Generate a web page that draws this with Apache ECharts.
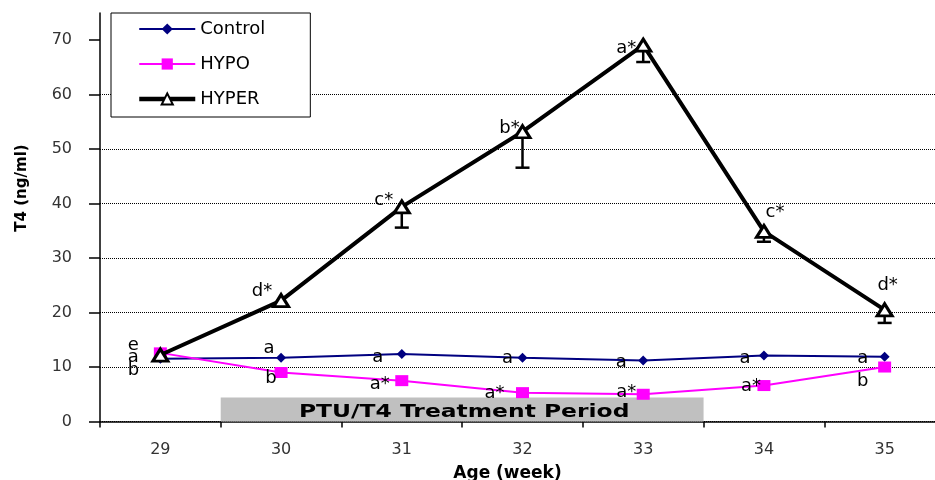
<!DOCTYPE html>
<html><head><meta charset="utf-8">
<script src="https://cdn.jsdelivr.net/npm/echarts@6/dist/echarts.min.js"></script>
<style>html,body{margin:0;padding:0;background:#fff}#c{width:935px;height:480px}</style>
</head><body><div id="c"></div>
<script>
const weeks = ['29', '30', '31', '32', '33', '34', '35'];
const controlT4 = [11.5, 11.7, 12.4, 11.7, 11.2, 12.1, 11.9];
const hypoT4 = [12.6, 9.0, 7.5, 5.3, 5.0, 6.6, 10.0];
const hyperT4 = [12.2, 22.2, 39.4, 53.2, 69.1, 34.9, 20.5];
const hyperErr = [0, 0, 3.8, 6.6, 3.1, 1.9, 2.4];
const controlLetters = ['a', 'a', 'a', 'a', 'a', 'a', 'a'];
const hypoLetters = ['b', 'b', 'a*', 'a*', 'a*', 'a*', 'b'];
const hyperLetters = ['e', 'd*', 'c*', 'b*', 'a*', 'c*', 'd*'];
const yTicks = [0, 10, 20, 30, 40, 50, 60, 70];
const treatmentWeeks = ['30', '33'];
const treatmentHeight = 4.4;
const treatmentLabel = 'PTU/T4 Treatment Period';

// label placement (style config, pixel offsets from each point)
const labelOffsets = {
  control: [[-27, -2], [-12, -9], [-24, 3], [-15, 1], [-22, 2], [-19, 3], [-22, 2]],
  hypo: [[-27, 17], [-10, 6], [-22, 4], [-28, 1], [-17, -2], [-13, 1], [-22, 14]],
  hyper: [[-27, -10], [-19, -9], [-18, -7], [-13, -3], [-17, 3], [11, -19], [3, -25]]
};

const FONT = '"DejaVu Sans", Verdana, sans-serif';

function withLabels(vals, letters, offs) {
  return vals.map((v, i) => ({
    value: v,
    label: { show: true, formatter: letters[i], offset: offs[i] }
  }));
}
const labelStyle = { position: 'inside', color: '#000', fontSize: 18, fontFamily: FONT };

const chart = echarts.init(document.getElementById('c'), null, { renderer: 'canvas' });
chart.setOption({
  animation: false,
  backgroundColor: '#fff',
  grid: { left: 100, right: -10, top: 13, bottom: 58.5, outerBoundsMode: 'none', containLabel: false },
  legend: {
    data: [
      { name: 'Control', lineStyle: { width: 2 } },
      { name: 'HYPO', lineStyle: { width: 2 } },
      { name: 'HYPER', lineStyle: { width: 4.5 } }
    ],
    orient: 'vertical',
    left: 111, top: 13,
    padding: [7, 45, 9, 26],
    itemGap: 17,
    itemWidth: 56, itemHeight: 14,
    backgroundColor: '#fff',
    borderColor: '#000', borderWidth: 1,
    textStyle: { color: '#000', fontSize: 18, fontFamily: FONT }
  },
  xAxis: {
    type: 'category',
    data: weeks,
    boundaryGap: true,
    name: 'Age (week)',
    nameLocation: 'middle',
    nameGap: 44,
    nameTextStyle: { color: '#000', fontSize: 17, fontWeight: 'bold', fontFamily: FONT, padding: [0, 30, 0, 0] },
    axisLine: { lineStyle: { color: '#000', width: 1.5 } },
    axisTick: { show: true, length: 6, alignWithLabel: false, lineStyle: { color: '#000', width: 1.5 } },
    axisLabel: { margin: 20, color: '#333', fontSize: 16, fontFamily: FONT },
    splitLine: { show: false }
  },
  yAxis: {
    type: 'value',
    min: 0, max: 75, interval: 10,
    axisLine: { show: true, lineStyle: { color: '#000', width: 1.5 } },
    axisTick: { show: true, length: 11, customValues: yTicks, lineStyle: { color: '#000', width: 1.5 } },
    axisLabel: { margin: 28, color: '#333', fontSize: 16, fontFamily: FONT, customValues: yTicks },
    splitLine: { show: true, showMaxLine: false, lineStyle: { color: '#000', type: 'dotted', width: 1 } }
  },
  graphic: [{
    type: 'text', x: 22, y: 188, rotation: Math.PI / 2,
    style: { text: 'T4 (ng/ml)', font: 'bold 15px ' + FONT, fill: '#000',
      align: 'center', verticalAlign: 'middle', textAlign: 'center', textVerticalAlign: 'middle' }
  }],
  series: [
    {
      type: 'custom', name: 'period', z: 1, silent: true,
      data: [[weeks.indexOf(treatmentWeeks[0]), weeks.indexOf(treatmentWeeks[1]), treatmentHeight]],
      renderItem(params, api) {
        const bw = api.size([1, 0])[0];
        const p0 = api.coord([api.value(0), api.value(2)]);
        const p1 = api.coord([api.value(1), 0]);
        const x0 = p0[0] - bw / 2, x1 = p1[0] + bw / 2;
        return { type: 'group', children: [
          { type: 'rect', shape: { x: x0, y: p0[1], width: x1 - x0, height: p1[1] - p0[1] }, style: { fill: '#c0c0c0' } },
          { type: 'text', x: (x0 + x1) / 2 + 2, y: (p0[1] + p1[1]) / 2 + 3, scaleX: 1.3,
            style: { text: treatmentLabel, fill: '#000', font: 'bold 18px ' + FONT,
              align: 'center', verticalAlign: 'middle', textAlign: 'center', textVerticalAlign: 'middle' } }
        ] };
      }
    },
    {
      name: 'Control', type: 'line', z: 3,
      data: withLabels(controlT4, controlLetters, labelOffsets.control),
      symbol: 'diamond', symbolSize: 10,
      itemStyle: { color: '#000080' },
      lineStyle: { color: '#000080', width: 2 },
      label: labelStyle
    },
    {
      name: 'HYPO', type: 'line', z: 3,
      data: withLabels(hypoT4, hypoLetters, labelOffsets.hypo),
      symbol: 'rect', symbolSize: [13, 11],
      itemStyle: { color: '#ff00ff' },
      lineStyle: { color: '#ff00ff', width: 2 },
      label: labelStyle
    },
    {
      type: 'custom', name: 'err', z: 4, silent: true,
      data: hyperT4.map((v, i) => [i, v, hyperErr[i]]).filter(d => d[2] > 0),
      renderItem(params, api) {
        const i = api.value(0), v = api.value(1), e = api.value(2);
        const top = api.coord([i, v]);
        const bot = api.coord([i, v - e]);
        const hw = 7;
        return { type: 'group', children: [
          { type: 'line', shape: { x1: top[0], y1: top[1], x2: bot[0], y2: bot[1] }, style: { stroke: '#000', lineWidth: 2.5 } },
          { type: 'line', shape: { x1: bot[0] - hw, y1: bot[1], x2: bot[0] + hw, y2: bot[1] }, style: { stroke: '#000', lineWidth: 2.5 } }
        ] };
      }
    },
    {
      name: 'HYPER', type: 'line', z: 5,
      data: withLabels(hyperT4, hyperLetters, labelOffsets.hyper),
      symbol: 'triangle', symbolSize: [15, 12],
      itemStyle: { color: '#fff', borderColor: '#000', borderWidth: 3 },
      lineStyle: { color: '#000', width: 4 },
      label: labelStyle
    }
  ]
});
</script></body></html>
